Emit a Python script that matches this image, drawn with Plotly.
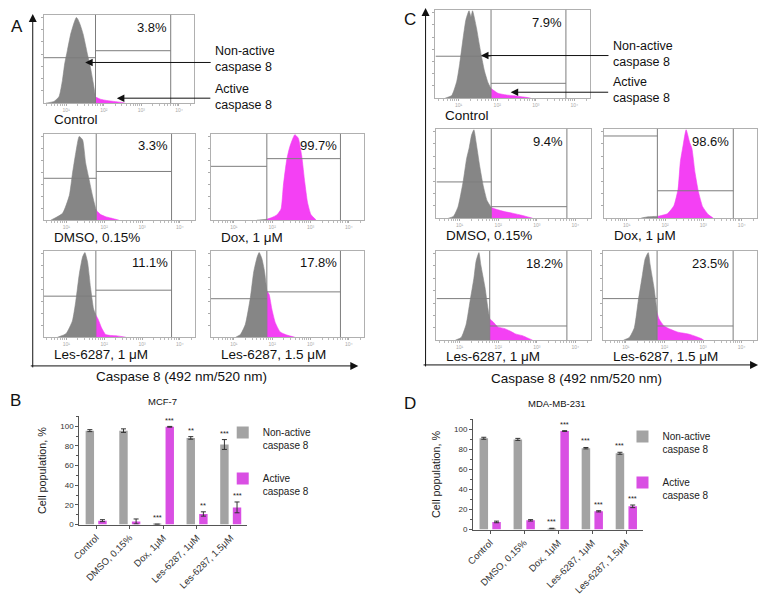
import numpy as np
import plotly.graph_objects as go

W, H = 763, 599

# --- flow cytometry histograms (x = log10 fluorescence, y = relative count) ---
# MCF-7 (panel A)
a_ctrl_x = [0.46, 0.68, 0.81, 0.90, 0.96, 1.03, 1.12, 1.21, 1.27, 1.31, 1.37, 1.45, 1.56, 1.64, 1.72, 1.78, 1.91, 2.08, 2.26, 2.48, 2.57]
a_ctrl_y = [0, 0.02, 0.075, 0.26, 0.45, 0.60, 0.79, 0.92, 0.98, 0.96, 0.90, 0.79, 0.57, 0.42, 0.23, 0.07, 0.045, 0.03, 0.02, 0.008, 0]
a_dmso_x = [0.59, 0.90, 1.08, 1.16, 1.25, 1.34, 1.43, 1.51, 1.60, 1.69, 1.78, 1.82, 1.91, 2.04, 2.22, 2.39]
a_dmso_y = [0, 0.08, 0.29, 0.54, 0.79, 0.98, 0.94, 0.67, 0.48, 0.29, 0.13, 0.10, 0.065, 0.04, 0.02, 0]
a_dox_x = [1.60, 1.86, 1.99, 2.12, 2.23, 2.29, 2.38, 2.46, 2.59, 2.68, 2.77, 2.85, 2.92, 3.01, 3.15]
a_dox_y = [0, 0.01, 0.03, 0.06, 0.13, 0.40, 0.71, 0.86, 1.0, 0.96, 0.75, 0.44, 0.21, 0.065, 0]
a_les1_x = [0.77, 0.99, 1.16, 1.25, 1.34, 1.43, 1.49, 1.56, 1.64, 1.72, 1.78, 1.84, 1.93, 2.04, 2.17, 2.35, 2.57]
a_les1_y = [0, 0.04, 0.19, 0.42, 0.73, 0.94, 0.99, 0.88, 0.58, 0.33, 0.26, 0.21, 0.11, 0.03, 0.02, 0.015, 0]
a_les15_x = [1.05, 1.17, 1.30, 1.43, 1.52, 1.61, 1.66, 1.73, 1.80, 1.86, 1.92, 1.99, 2.08, 2.21, 2.38, 2.59]
a_les15_y = [0, 0.03, 0.15, 0.46, 0.77, 0.94, 0.99, 0.92, 0.77, 0.54, 0.50, 0.33, 0.17, 0.06, 0.025, 0]
# MDA-MB-231 (panel C)
c_ctrl_x = [0.65, 0.82, 0.95, 1.03, 1.12, 1.19, 1.27, 1.32, 1.36, 1.46, 1.53, 1.60, 1.67, 1.76, 1.84, 2.02, 2.23, 2.48, 2.74, 2.87]
c_ctrl_y = [0, 0.03, 0.19, 0.40, 0.70, 0.90, 1.0, 0.93, 1.0, 0.81, 0.63, 0.46, 0.31, 0.18, 0.11, 0.056, 0.037, 0.026, 0.01, 0]
c_dmso_x = [0.71, 0.84, 0.96, 1.09, 1.18, 1.25, 1.31, 1.37, 1.43, 1.52, 1.61, 1.71, 1.82, 1.95, 2.16, 2.37, 2.63, 2.80, 2.89]
c_dmso_y = [0, 0.02, 0.13, 0.41, 0.67, 0.80, 0.94, 1.0, 0.85, 0.59, 0.37, 0.20, 0.12, 0.10, 0.074, 0.056, 0.03, 0.01, 0]
c_dox_x = [1.37, 1.55, 1.76, 1.80, 2.06, 2.23, 2.34, 2.40, 2.47, 2.55, 2.64, 2.70, 2.78, 2.87, 2.98, 3.13, 3.26]
c_dox_y = [0, 0.015, 0.02, 0.02, 0.05, 0.14, 0.33, 0.64, 0.82, 1.0, 0.86, 0.79, 0.52, 0.30, 0.13, 0.04, 0]
c_les1_x = [0.89, 1.04, 1.17, 1.27, 1.37, 1.43, 1.50, 1.55, 1.66, 1.73, 1.78, 1.86, 1.99, 2.17, 2.32, 2.45, 2.63, 2.76, 2.89]
c_les1_y = [0, 0.03, 0.18, 0.44, 0.70, 0.90, 0.99, 0.85, 0.59, 0.37, 0.24, 0.21, 0.15, 0.13, 0.10, 0.07, 0.05, 0.025, 0]
c_les15_x = [0.94, 1.09, 1.22, 1.32, 1.43, 1.50, 1.58, 1.63, 1.73, 1.81, 1.86, 1.99, 2.17, 2.35, 2.48, 2.61, 2.76, 2.94, 3.02]
c_les15_y = [0, 0.03, 0.14, 0.44, 0.74, 0.92, 0.99, 0.85, 0.59, 0.31, 0.24, 0.16, 0.12, 0.09, 0.08, 0.07, 0.05, 0.02, 0]

# gates (log10 units) and marker levels (fraction of max count)
gate_x = [1.78, 1.79, 1.86, 1.78, 1.86, 1.84, 1.82, 1.80, 1.78, 1.81]
gate_end = 3.78
gate_left_level = [0.52, 0.49, 0.63, 0.48, 0.45, 0.48, 0.41, 0.93, 0.47, 0.47]
gate_right_level = [0.60, 0.57, 0.72, 0.55, 0.53, 0.17, 0.13, 0.31, 0.16, 0.16]
active_pct = ['3.8%', '3.3%', '99.7%', '11.1%', '17.8%', '7.9%', '9.4%', '98.6%', '18.2%', '23.5%']
hist_labels = ['Control', 'DMSO, 0.15%', 'Dox, 1 μM', 'Les-6287, 1 μM', 'Les-6287, 1.5 μM'] * 2
decade_ticks = [1, 2, 3, 4]
decade_labels = ['10¹', '10²', '10³', '10⁴']

# --- bar charts ---
treatments = ['Control', 'DMSO, 0.15%', 'Dox, 1μM', 'Les-6287, 1μM', 'Les-6287, 1.5μM']
mcf7_nonactive = [95.6, 95.6, 0.3, 88.2, 81.5]
mcf7_nonactive_err = [1.0, 1.8, 0.2, 1.3, 5.0]
mcf7_active = [4.0, 3.2, 99.5, 10.8, 17.5]
mcf7_active_err = [1.0, 2.5, 0.4, 2.2, 5.5]
mcf7_sig_nonactive = ['', '', '***', '**', '***']
mcf7_sig_active = ['', '', '***', '**', '***']
mda_nonactive = [91.2, 90.1, 1.0, 81.3, 76.2]
mda_nonactive_err = [1.0, 1.0, 0.3, 0.7, 1.0]
mda_active = [7.6, 9.2, 98.4, 18.2, 23.2]
mda_active_err = [0.8, 0.7, 0.4, 0.6, 1.3]
mda_sig_nonactive = ['', '', '***', '***', '***']
mda_sig_active = ['', '', '***', '***', '***']

hists = [(a_ctrl_x, a_ctrl_y), (a_dmso_x, a_dmso_y), (a_dox_x, a_dox_y), (a_les1_x, a_les1_y), (a_les15_x, a_les15_y),
         (c_ctrl_x, c_ctrl_y), (c_dmso_x, c_dmso_y), (c_dox_x, c_dox_y), (c_les1_x, c_les1_y), (c_les15_x, c_les15_y)]

FONT = 'Liberation Sans, Arial, sans-serif'
GREY_H = '#868686'
PINK_H = '#f440f4'
GREY_B = '#a3a3a3'
PINK_B = '#d94fe3'


def fx(p):
    return p / W


def fy(p):
    return 1 - p / H


def names(i):
    s = '' if i == 1 else str(i)
    return 'xaxis' + s, 'yaxis' + s, 'x' + s, 'y' + s


# pixel boxes of the small histogram frames (left, right, top, bottom)
boxes = [(36, 188, 15, 104), (36, 189, 135, 222), (205, 360, 135, 222),
         (36, 189, 253, 340), (205, 360, 253, 340),
         (432, 588, 10, 99), (433, 589, 130, 220), (602, 757, 130, 220),
         (433, 589, 253, 343), (601, 757, 253, 343)]

minor_vals = [n + np.log10(k) for n in range(0, 5) for k in range(2, 10) if 0.4 < n + np.log10(k) < 4.4]

fig = go.Figure()
layout = {}

for i, ((hx, hy), box) in enumerate(zip(hists, boxes), start=1):
    xn, yn, xr, yr = names(i)
    g = gate_x[i - 1]
    hx = np.array(hx)
    hy = np.array(hy)
    gy = float(np.interp(g, hx, hy))
    gx_l = list(hx[hx < g]) + [g]
    gy_l = list(hy[hx < g]) + [gy]
    px_r = [g] + list(hx[hx > g])
    py_r = [gy] + list(hy[hx > g])
    fig.add_trace(go.Scatter(x=gx_l, y=gy_l, mode='lines', fill='tozeroy', fillcolor=GREY_H,
                             line=dict(color=GREY_H, width=0.6, shape='spline', smoothing=0.5),
                             xaxis=xr, yaxis=yr, showlegend=False, hoverinfo='skip'))
    fig.add_trace(go.Scatter(x=px_r, y=py_r, mode='lines', fill='tozeroy', fillcolor=PINK_H,
                             line=dict(color=PINK_H, width=0.6, shape='spline', smoothing=0.5),
                             xaxis=xr, yaxis=yr, showlegend=False, hoverinfo='skip'))
    l, r, t, b = box
    layout[xn] = dict(domain=[fx(l), fx(r)], range=[0.4, 4.4], anchor=yr, showline=True, mirror=True,
                      linecolor='#b0b0b0', linewidth=1, showgrid=False, zeroline=False,
                      ticks='outside', ticklen=2, tickcolor='#aaaaaa',
                      tickvals=decade_ticks, ticktext=decade_labels,
                      tickfont=dict(size=5, color='#aaaaaa', family=FONT),
                      minor=dict(tickvals=minor_vals, ticks='outside', ticklen=1.5, tickcolor='#bbbbbb'))
    layout[yn] = dict(domain=[fy(b), fy(t)], range=[0, 1.01], anchor=xr, showline=True, mirror=True,
                      linecolor='#b0b0b0', linewidth=1, showgrid=False, zeroline=False,
                      ticks='outside', ticklen=2, tickcolor='#aaaaaa',
                      tickvals=[0.14 * k for k in range(1, 8)], showticklabels=False)
    # gate markers
    line = dict(color='#7d7d7d', width=1)
    fig.add_shape(type='line', xref=xr, yref=yr + ' domain', x0=g, x1=g, y0=0, y1=1, line=line)
    fig.add_shape(type='line', xref=xr, yref=yr + ' domain', x0=gate_end, x1=gate_end, y0=0, y1=1, line=line)
    fig.add_shape(type='line', xref=xr, yref=yr, x0=0.4, x1=g,
                  y0=gate_left_level[i - 1], y1=gate_left_level[i - 1], line=line)
    fig.add_shape(type='line', xref=xr, yref=yr, x0=g, x1=gate_end,
                  y0=gate_right_level[i - 1], y1=gate_right_level[i - 1], line=line)
    fig.add_annotation(x=gate_end - 0.05, y=0.87, xref=xr, yref=yr, text=active_pct[i - 1],
                       showarrow=False, xanchor='right', yanchor='middle',
                       font=dict(size=13, color='#111111', family=FONT))
    fig.add_annotation(x=fx(l + 8), y=fy(b + 17), xref='paper', yref='paper', text=hist_labels[i - 1],
                       showarrow=False, xanchor='left', yanchor='middle',
                       font=dict(size=13.5, color='#111111', family=FONT))

# --- bar charts ---
bar_sets = [
    (11, mcf7_nonactive, mcf7_nonactive_err, mcf7_active, mcf7_active_err,
     mcf7_sig_nonactive, mcf7_sig_active, 'legend', (72, 242, 420, 529)),
    (12, mda_nonactive, mda_nonactive_err, mda_active, mda_active_err,
     mda_sig_nonactive, mda_sig_active, 'legend2', (470, 642, 423, 534)),
]
for i, non, non_err, act, act_err, sig_non, sig_act, leg, box in bar_sets:
    xn, yn, xr, yr = names(i)
    err_style = dict(type='data', thickness=1, width=2.5, color='#333333')
    fig.add_trace(go.Bar(x=treatments, y=non, error_y=dict(array=non_err, **err_style),
                         width=0.25, offset=-0.31, marker=dict(color=GREY_B, line=dict(width=0)),
                         name='Non-active<br>caspase 8', legend=leg, legendgroup=leg + 'n',
                         xaxis=xr, yaxis=yr))
    fig.add_trace(go.Bar(x=treatments, y=act, error_y=dict(array=act_err, **err_style),
                         width=0.25, offset=0.065, marker=dict(color=PINK_B, line=dict(width=0)),
                         name='Active<br>caspase 8', legend=leg, legendgroup=leg + 'a',
                         xaxis=xr, yaxis=yr))
    for k in range(len(treatments)):
        for s, v, e, dx in ((sig_non[k], non[k], non_err[k], -0.185), (sig_act[k], act[k], act_err[k], 0.19)):
            if s:
                fig.add_annotation(x=k + dx, y=v + e + 6.5, xref=xr, yref=yr, text=s, showarrow=False,
                                   yanchor='middle', font=dict(size=7.5, color='#222222', family=FONT))
    l, r, t, b = box
    layout[xn] = dict(domain=[fx(l), fx(r)], type='category', range=[-0.5, 4.5], anchor=yr,
                      showline=True, linecolor='#555555', linewidth=1, showgrid=False, zeroline=False,
                      ticks='outside', ticklen=3, tickcolor='#555555', tickangle=-45,
                      tickfont=dict(size=9.5, color='#333333', family=FONT))
    layout[yn] = dict(domain=[fy(b), fy(t)], range=[0, 110], anchor=xr,
                      showline=True, linecolor='#555555', linewidth=1, showgrid=False, zeroline=False,
                      ticks='outside', ticklen=3, tickcolor='#555555', tickvals=[0, 20, 40, 60, 80, 100],
                      tickfont=dict(size=8, color='#333333', family=FONT),
                      minor=dict(dtick=10, ticks='outside', ticklen=2, tickcolor='#555555'),
                      title=dict(text='Cell population, %', standoff=11,
                                 font=dict(size=10.8, color='#222222', family=FONT)))

# --- figure-level texts and arrows ---
texts = [
    ('A', 9, 27, 17), ('C', 406, 20, 17), ('B', 8, 404, 17), ('D', 406, 407, 17),
    ('MCF-7', 156, 405, 9.5), ('MDA-MB-231', 555, 407, 9.5),
    ('Caspase 8 (492 nm/520 nm)', 175, 380, 13.5), ('Caspase 8 (492 nm/520 nm)', 575, 382, 13.5),
]
for txt, x, y, size in texts:
    fig.add_annotation(x=fx(x), y=fy(y), xref='paper', yref='paper', text=txt, showarrow=False,
                       xanchor='center', yanchor='middle', font=dict(size=size, color='#111111', family=FONT))

side_texts = [('Non-active<br>caspase 8', 207, 60), ('Active<br>caspase 8', 207, 98),
              ('Non-active<br>caspase 8', 609, 54), ('Active<br>caspase 8', 609, 91)]
for txt, x, y in side_texts:
    fig.add_annotation(x=fx(x), y=fy(y), xref='paper', yref='paper', text=txt, showarrow=False,
                       xanchor='left', yanchor='middle', align='left',
                       font=dict(size=12.5, color='#111111', family=FONT))

# (head x, head y, tail dx, tail dy, head size)
arrows = [(25, 14, 0, 355, 1.6), (354, 369, -329, 0, 1.6),
          (422, 8, 0, 360, 1.6), (758, 368, -336, 0, 1.6),
          (78, 63, 127, 0, 1.5), (110, 99, 95, 0, 1.5),
          (478, 56, 129, 0, 1.5), (508, 93, 99, 0, 1.5)]
for x, y, ax, ay, size in arrows:
    fig.add_annotation(x=fx(x), y=fy(y), xref='paper', yref='paper', ax=ax, ay=ay, text='',
                       showarrow=True, arrowhead=2, arrowsize=size, arrowwidth=1, arrowcolor='#111111')

legend_style = dict(xanchor='left', yanchor='top', bgcolor='rgba(0,0,0,0)', tracegroupgap=17,
                    valign='top', itemwidth=30, font=dict(size=10, color='#222222', family=FONT))
fig.update_layout(
    width=W, height=H, margin=dict(l=0, r=0, t=0, b=0),
    paper_bgcolor='white', plot_bgcolor='white',
    font=dict(family=FONT, color='#111111'),
    legend=dict(x=fx(217), y=fy(423), **legend_style),
    legend2=dict(x=fx(621), y=fy(427), **legend_style),
    **layout,
)

# drop the browser's default page margin so the figure sits at the window corner
fig.write_html('out.html', config={'displayModeBar': False},
               post_script="document.body.style.margin='0px';document.body.style.overflow='hidden';")
